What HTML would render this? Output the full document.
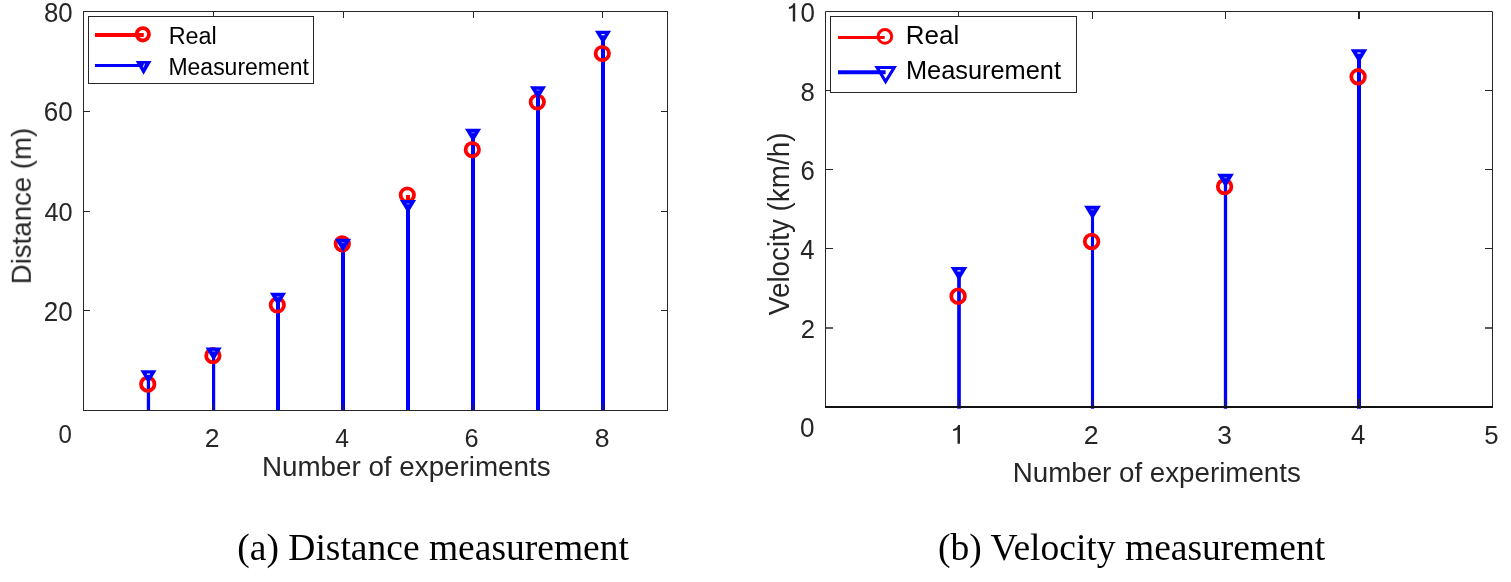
<!DOCTYPE html>
<html><head><meta charset="utf-8"><style>html,body{margin:0;padding:0;background:#fff;overflow:hidden;width:1511px;height:582px}svg{display:block}</style></head>
<body><svg width="1511" height="582" viewBox="0 0 1511 582">
<rect width="1511" height="582" fill="#fff"/>
<g style="will-change:transform">
<line x1="343.0" y1="243.9" x2="343.0" y2="245.3" stroke="#ff0000" stroke-width="4.0"/>
<line x1="408.0" y1="195.0" x2="408.0" y2="206.5" stroke="#ff0000" stroke-width="4.0"/>
<line x1="148.45" y1="376.8" x2="148.45" y2="411.0" stroke="#0000ff" stroke-width="3.3"/>
<line x1="213.6" y1="354.0" x2="213.6" y2="411.0" stroke="#0000ff" stroke-width="3.2"/>
<line x1="278.0" y1="299.3" x2="278.0" y2="411.0" stroke="#0000ff" stroke-width="4.0"/>
<line x1="343.0" y1="245.3" x2="343.0" y2="411.0" stroke="#0000ff" stroke-width="4.0"/>
<line x1="408.0" y1="206.5" x2="408.0" y2="411.0" stroke="#0000ff" stroke-width="4.0"/>
<line x1="473.0" y1="135.3" x2="473.0" y2="411.0" stroke="#0000ff" stroke-width="4.0"/>
<line x1="538.0" y1="92.8" x2="538.0" y2="411.0" stroke="#0000ff" stroke-width="4.0"/>
<line x1="603.0" y1="37.3" x2="603.0" y2="411.0" stroke="#0000ff" stroke-width="4.0"/>
<circle cx="147.75" cy="384.2" r="6.7" fill="none" stroke="#ff0000" stroke-width="3.8"/>
<circle cx="212.9" cy="355.7" r="6.7" fill="none" stroke="#ff0000" stroke-width="3.8"/>
<circle cx="277.3" cy="305.0" r="6.7" fill="none" stroke="#ff0000" stroke-width="3.8"/>
<circle cx="342.3" cy="243.9" r="6.7" fill="none" stroke="#ff0000" stroke-width="3.8"/>
<circle cx="407.3" cy="195.0" r="6.7" fill="none" stroke="#ff0000" stroke-width="3.8"/>
<circle cx="472.3" cy="149.7" r="6.7" fill="none" stroke="#ff0000" stroke-width="3.8"/>
<circle cx="537.3" cy="102.0" r="6.7" fill="none" stroke="#ff0000" stroke-width="3.8"/>
<circle cx="602.3" cy="53.5" r="6.7" fill="none" stroke="#ff0000" stroke-width="3.8"/>
<polygon points="140.35,370.30 156.55,370.30 148.45,383.50" fill="#0000ff"/>
<rect x="146.85" y="373.50" width="3.2" height="1.3" fill="#fff" opacity="0.9"/>
<polygon points="205.50,347.50 221.70,347.50 213.60,360.70" fill="#0000ff"/>
<rect x="212.00" y="350.70" width="3.2" height="1.3" fill="#fff" opacity="0.35"/>
<polygon points="269.90,292.80 286.10,292.80 278.00,306.00" fill="#0000ff"/>
<rect x="276.40" y="296.00" width="3.2" height="1.3" fill="#fff" opacity="0.35"/>
<polygon points="334.90,238.80 351.10,238.80 343.00,252.00" fill="#0000ff"/>
<rect x="341.40" y="242.00" width="3.2" height="1.3" fill="#fff" opacity="0.35"/>
<polygon points="399.90,200.00 416.10,200.00 408.00,213.20" fill="#0000ff"/>
<rect x="406.40" y="203.20" width="3.2" height="1.3" fill="#fff" opacity="0.35"/>
<polygon points="464.90,128.80 481.10,128.80 473.00,142.00" fill="#0000ff"/>
<rect x="471.40" y="132.00" width="3.2" height="1.3" fill="#fff" opacity="0.35"/>
<polygon points="529.90,86.30 546.10,86.30 538.00,99.50" fill="#0000ff"/>
<rect x="536.40" y="89.50" width="3.2" height="1.3" fill="#fff" opacity="0.35"/>
<polygon points="594.90,30.80 611.10,30.80 603.00,44.00" fill="#0000ff"/>
<rect x="601.40" y="34.00" width="3.2" height="1.3" fill="#fff" opacity="0.9"/>
<rect x="83.5" y="11.5" width="584.0" height="399.0" fill="none" stroke="#262626" stroke-width="1"/>
<line x1="213.5" y1="11.5" x2="213.5" y2="18.0" stroke="#262626" stroke-width="1"/>
<line x1="213.5" y1="410.5" x2="213.5" y2="404.0" stroke="#262626" stroke-width="1"/>
<line x1="343.5" y1="11.5" x2="343.5" y2="18.0" stroke="#262626" stroke-width="1"/>
<line x1="343.5" y1="410.5" x2="343.5" y2="404.0" stroke="#262626" stroke-width="1"/>
<line x1="473.5" y1="11.5" x2="473.5" y2="18.0" stroke="#262626" stroke-width="1"/>
<line x1="473.5" y1="410.5" x2="473.5" y2="404.0" stroke="#262626" stroke-width="1"/>
<line x1="602.5" y1="11.5" x2="602.5" y2="18.0" stroke="#262626" stroke-width="1"/>
<line x1="602.5" y1="410.5" x2="602.5" y2="404.0" stroke="#262626" stroke-width="1"/>
<line x1="83.5" y1="111.5" x2="90.0" y2="111.5" stroke="#262626" stroke-width="1"/>
<line x1="667.5" y1="111.5" x2="661.0" y2="111.5" stroke="#262626" stroke-width="1"/>
<line x1="83.5" y1="211.5" x2="90.0" y2="211.5" stroke="#262626" stroke-width="1"/>
<line x1="667.5" y1="211.5" x2="661.0" y2="211.5" stroke="#262626" stroke-width="1"/>
<line x1="83.5" y1="310.5" x2="90.0" y2="310.5" stroke="#262626" stroke-width="1"/>
<line x1="667.5" y1="310.5" x2="661.0" y2="310.5" stroke="#262626" stroke-width="1"/>
<rect x="88.5" y="16.5" width="225" height="67" fill="#fff" fill-opacity="0.99" stroke="#262626" stroke-width="1"/>
<line x1="95" y1="35.1" x2="143.8" y2="35.1" stroke="#ff0000" stroke-width="4"/>
<circle cx="142.8" cy="34.3" r="6.2" fill="none" stroke="#ff0000" stroke-width="3.8"/>
<line x1="95" y1="65.5" x2="142" y2="65.5" stroke="#0000ff" stroke-width="3.2"/>
<polygon points="135.70,60.90 151.50,60.90 143.60,74.80" fill="#0000ff"/>
<path d="M144.6 63.6 L143.2 67.2" stroke="#fff" stroke-width="1.1" opacity="0.8"/>
<text transform="translate(168.68,44.00) scale(0.9526,1)" font-size="24.55" fill="#000" font-family='"Liberation Sans", sans-serif'>Real</text>
<text transform="translate(168.42,74.60) scale(0.9303,1)" font-size="24.71" fill="#000" font-family='"Liberation Sans", sans-serif'>Measurement</text>
<text transform="translate(43.89,22.23) scale(0.9523,1)" font-size="27.12" fill="#262626" font-family='"Liberation Sans", sans-serif'>80</text>
<text transform="translate(43.67,121.03) scale(0.9548,1)" font-size="27.26" fill="#262626" font-family='"Liberation Sans", sans-serif'>60</text>
<text transform="translate(44.42,220.73) scale(0.9540,1)" font-size="26.55" fill="#262626" font-family='"Liberation Sans", sans-serif'>40</text>
<text transform="translate(43.70,320.73) scale(0.9588,1)" font-size="27.12" fill="#262626" font-family='"Liberation Sans", sans-serif'>20</text>
<text transform="translate(58.46,442.63) scale(0.9012,1)" font-size="26.69" fill="#262626" font-family='"Liberation Sans", sans-serif'>0</text>
<text transform="translate(204.87,447.00) scale(1.0233,1)" font-size="25.93" fill="#262626" font-family='"Liberation Sans", sans-serif'>2</text>
<text transform="translate(335.23,447.00) scale(0.9427,1)" font-size="26.31" fill="#262626" font-family='"Liberation Sans", sans-serif'>4</text>
<text transform="translate(464.51,446.74) scale(0.9927,1)" font-size="25.56" fill="#262626" font-family='"Liberation Sans", sans-serif'>6</text>
<text transform="translate(594.66,446.74) scale(1.0403,1)" font-size="25.56" fill="#262626" font-family='"Liberation Sans", sans-serif'>8</text>
<text transform="translate(261.92,475.80) scale(0.9973,1)" font-size="27.86" fill="#262626" font-family='"Liberation Sans", sans-serif'>Number of experiments</text>
<text transform="translate(30.80,284.26) rotate(-90) scale(0.9740,1)" font-size="28.34" fill="#262626" font-family='"Liberation Sans", sans-serif'>Distance (m)</text>
<line x1="959.0" y1="273.5" x2="959.0" y2="408.7" stroke="#0000ff" stroke-width="3.7"/>
<line x1="1092.5" y1="212.3" x2="1092.5" y2="408.7" stroke="#0000ff" stroke-width="3.1"/>
<line x1="1225.5" y1="180.3" x2="1225.5" y2="408.7" stroke="#0000ff" stroke-width="3.3"/>
<line x1="1359.0" y1="55.7" x2="1359.0" y2="408.7" stroke="#0000ff" stroke-width="4.0"/>
<circle cx="958.1" cy="296.2" r="6.8" fill="none" stroke="#ff0000" stroke-width="3.8"/>
<circle cx="1091.6" cy="241.5" r="6.8" fill="none" stroke="#ff0000" stroke-width="3.8"/>
<circle cx="1224.6" cy="186.6" r="6.8" fill="none" stroke="#ff0000" stroke-width="3.8"/>
<circle cx="1358.1" cy="76.8" r="6.8" fill="none" stroke="#ff0000" stroke-width="3.8"/>
<polygon points="950.60,267.00 967.40,267.00 959.00,280.80" fill="#0000ff"/>
<rect x="957.40" y="270.20" width="3.2" height="1.3" fill="#fff" opacity="0.9"/>
<polygon points="1084.10,205.80 1100.90,205.80 1092.50,219.60" fill="#0000ff"/>
<rect x="1090.90" y="209.00" width="3.2" height="1.3" fill="#fff" opacity="0.35"/>
<polygon points="1217.10,173.80 1233.90,173.80 1225.50,187.60" fill="#0000ff"/>
<rect x="1223.90" y="177.00" width="3.2" height="1.3" fill="#fff" opacity="0.35"/>
<polygon points="1350.60,49.20 1367.40,49.20 1359.00,63.00" fill="#0000ff"/>
<rect x="1357.40" y="52.40" width="3.2" height="1.3" fill="#fff" opacity="0.9"/>
<line x1="825.5" y1="11.5" x2="1492.5" y2="11.5" stroke="#262626" stroke-width="1"/>
<line x1="825.5" y1="11.5" x2="825.5" y2="407" stroke="#262626" stroke-width="1"/>
<line x1="1492.5" y1="11.5" x2="1492.5" y2="407" stroke="#262626" stroke-width="1"/>
<line x1="825.0" y1="407" x2="1493.0" y2="407" stroke="#111" stroke-width="2"/>
<line x1="958.5" y1="11.5" x2="958.5" y2="19.0" stroke="#262626" stroke-width="1"/>
<line x1="958.5" y1="406" x2="958.5" y2="399" stroke="#262626" stroke-width="1"/>
<line x1="1092.5" y1="11.5" x2="1092.5" y2="19.0" stroke="#262626" stroke-width="1"/>
<line x1="1092.5" y1="406" x2="1092.5" y2="399" stroke="#262626" stroke-width="1"/>
<line x1="1225.5" y1="11.5" x2="1225.5" y2="19.0" stroke="#262626" stroke-width="1"/>
<line x1="1225.5" y1="406" x2="1225.5" y2="399" stroke="#262626" stroke-width="1"/>
<line x1="1359" y1="11.5" x2="1359" y2="19.0" stroke="#262626" stroke-width="2"/>
<line x1="1359" y1="406" x2="1359" y2="399" stroke="#262626" stroke-width="2"/>
<line x1="825.5" y1="90.5" x2="833.0" y2="90.5" stroke="#262626" stroke-width="1"/>
<line x1="1492.5" y1="90.5" x2="1485.0" y2="90.5" stroke="#262626" stroke-width="1"/>
<line x1="825.5" y1="169.5" x2="833.0" y2="169.5" stroke="#262626" stroke-width="1"/>
<line x1="1492.5" y1="169.5" x2="1485.0" y2="169.5" stroke="#262626" stroke-width="1"/>
<line x1="825.5" y1="248.5" x2="833.0" y2="248.5" stroke="#262626" stroke-width="1"/>
<line x1="1492.5" y1="248.5" x2="1485.0" y2="248.5" stroke="#262626" stroke-width="1"/>
<line x1="825.5" y1="328" x2="833.0" y2="328" stroke="#262626" stroke-width="1.5"/>
<line x1="1492.5" y1="328" x2="1485.0" y2="328" stroke="#262626" stroke-width="1.5"/>
<rect x="830.5" y="16.5" width="246" height="76" fill="#fff" fill-opacity="0.99" stroke="#262626" stroke-width="1"/>
<line x1="838" y1="37.4" x2="884.7" y2="37.4" stroke="#ff0000" stroke-width="3.0"/>
<circle cx="884.9" cy="36.4" r="6.8" fill="none" stroke="#ff0000" stroke-width="3.0"/>
<line x1="838" y1="72.2" x2="885.6" y2="72.2" stroke="#0000ff" stroke-width="4"/>
<polygon points="877.0,67.4 894.3,67.4 885.6,81.6" fill="none" stroke="#0000ff" stroke-width="3"/>
<text transform="translate(905.87,44.20) scale(1.0228,1)" font-size="25.38" fill="#000" font-family='"Liberation Sans", sans-serif'>Real</text>
<text transform="translate(905.92,79.20) scale(0.9748,1)" font-size="26.02" fill="#000" font-family='"Liberation Sans", sans-serif'>Measurement</text>
<path d="M792.80 21.60 L795.20 21.60 L795.20 3.20 L793.40 3.20 Q792.50 6.50 788.90 6.90 L788.90 8.90 Q791.50 8.50 792.80 7.40 Z" fill="#262626"/>
<text transform="translate(800.39,22.12) scale(0.9371,1)" font-size="27.68" fill="#262626" font-family='"Liberation Sans", sans-serif'>0</text>
<text transform="translate(800.51,101.03) scale(0.9680,1)" font-size="26.55" fill="#262626" font-family='"Liberation Sans", sans-serif'>8</text>
<text transform="translate(800.54,179.73) scale(0.9479,1)" font-size="27.12" fill="#262626" font-family='"Liberation Sans", sans-serif'>6</text>
<text transform="translate(800.15,259.20) scale(0.9611,1)" font-size="26.74" fill="#262626" font-family='"Liberation Sans", sans-serif'>4</text>
<text transform="translate(800.69,338.00) scale(0.9968,1)" font-size="25.79" fill="#262626" font-family='"Liberation Sans", sans-serif'>2</text>
<text transform="translate(799.98,437.23) scale(0.9643,1)" font-size="27.12" fill="#262626" font-family='"Liberation Sans", sans-serif'>0</text>
<path d="M957.50 443.80 L960.00 443.80 L960.00 425.00 L958.10 425.00 Q957.20 428.30 953.20 429.00 L953.20 431.00 Q956.20 430.60 957.50 429.50 Z" fill="#262626"/>
<text transform="translate(1083.66,444.30) scale(1.0094,1)" font-size="26.50" fill="#262626" font-family='"Liberation Sans", sans-serif'>2</text>
<text transform="translate(1217.30,444.04) scale(1.0092,1)" font-size="26.13" fill="#262626" font-family='"Liberation Sans", sans-serif'>3</text>
<text transform="translate(1351.11,444.30) scale(0.9592,1)" font-size="26.89" fill="#262626" font-family='"Liberation Sans", sans-serif'>4</text>
<text transform="translate(1484.27,444.03) scale(0.9711,1)" font-size="26.50" fill="#262626" font-family='"Liberation Sans", sans-serif'>5</text>
<text transform="translate(1012.73,482.00) scale(0.9955,1)" font-size="27.86" fill="#262626" font-family='"Liberation Sans", sans-serif'>Number of experiments</text>
<text transform="translate(788.50,315.14) rotate(-90) scale(0.9488,1)" font-size="29.36" fill="#262626" font-family='"Liberation Sans", sans-serif'>Velocity (km/h)</text>
<text transform="translate(237.35,559.70) scale(1.0002,1)" font-size="37.50" fill="#000" font-family='"Liberation Serif", serif'>(a) Distance measurement</text>
<text transform="translate(937.95,559.70) scale(1.0015,1)" font-size="37.50" fill="#000" font-family='"Liberation Serif", serif'>(b) Velocity measurement</text>
</g></svg></body></html>
